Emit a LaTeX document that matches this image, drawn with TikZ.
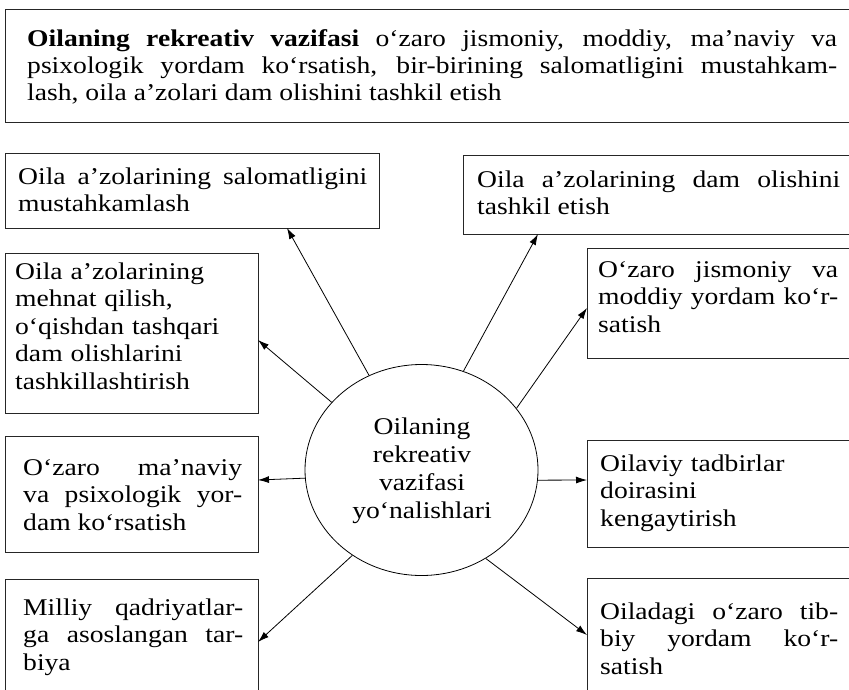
\documentclass[tikz,border=0pt]{standalone}
\usepackage{fontspec}
\setmainfont[FakeStretch=1.15]{Liberation Serif}
\usetikzlibrary{arrows.meta,shapes.geometric}
\hyphenpenalty=10000
\exhyphenpenalty=10000
\begin{document}
\begin{tikzpicture}[x=1pt,y=-1pt,
  box/.style={draw=black!85,line width=1pt,anchor=north west,inner sep=0pt},
  txt/.style={anchor=base west,inner sep=0pt,font=\fontsize{24}{27.5}\selectfont},
  arr/.style={-{Latex[length=11pt,width=7pt]},line width=0.8pt}]
\useasboundingbox[fill=white] (0,0) rectangle (849,689);

% boxes
\node[box,minimum width=855,minimum height=113] (T) at (5,9) {};
\node[box,minimum width=374,minimum height=75] (A) at (5,153) {};
\node[box,minimum width=397,minimum height=79] (B) at (463,155) {};
\node[box,minimum width=253,minimum height=160] (C) at (5,253) {};
\node[box,minimum width=273,minimum height=110] (D) at (587,248) {};
\node[box,minimum width=253,minimum height=116] (E) at (5,436) {};
\node[box,minimum width=253,minimum height=125] (F) at (5,579) {};
\node[box,minimum width=273,minimum height=107] (G) at (587,440) {};
\node[box,minimum width=273,minimum height=125] (H) at (587,578) {};

% texts
\node[txt,text width=810,align=justify,
  font=\fontsize{24}{27}\selectfont] (tT) at (27,46)
  {\textbf{Oilaning rekreativ vazifasi} o‘zaro jismoniy, moddiy, ma’naviy va\linebreak
   psixologik yordam ko‘rsatish, bir-birining salomatligini mustahkam-\linebreak
   lash, oila a’zolari dam olishini tashkil etish};
\node[txt,text width=349,align=justify] (tA) at (18,184)
  {Oila a’zolarining salomatligini\linebreak mustahkamlash};
\node[txt,text width=363,align=justify] (tB) at (477,187)
  {Oila a’zolarining dam olishini\linebreak tashkil etish};
\node[txt,text width=240,align=left] (tC) at (15,279)
  {Oila a’zolarining\\ mehnat qilish,\\ o‘qishdan tashqari\\ dam olishlarini\\ tashkillashtirish};
\node[txt,text width=240,align=justify] (tD) at (598,277)
  {O‘zaro jismoniy va\linebreak moddiy yordam ko‘r-\linebreak satish};
\node[txt,text width=219,align=justify] (tE) at (23,475)
  {O‘zaro ma’naviy\linebreak va psixologik yor-\linebreak dam ko‘rsatish};
\node[txt,text width=220,align=justify] (tF) at (23,615)
  {Milliy qadriyatlar-\linebreak ga asoslangan tar-\linebreak biya};
\node[txt,text width=238,align=left] (tG) at (600,471)
  {Oilaviy tadbirlar\\ doirasini\\ kengaytirish};
\node[txt,text width=238,align=justify] (tH) at (600,619)
  {Oiladagi o‘zaro tib-\linebreak biy yordam ko‘r-\linebreak satish};

% centre
\node[draw,ellipse,line width=0.8pt,minimum width=233,minimum height=211,inner sep=0pt] (c) at (421.5,470) {};
\node[anchor=base,inner sep=0pt,text width=220,align=center,
  font=\fontsize{24}{28}\selectfont] (ct) at (422,434)
  {Oilaning\\ rekreativ\\ vazifasi\\ yo‘nalishlari};

% arrow tips
\coordinate (pA) at (287,228);
\coordinate (pB) at (538,234);
\coordinate (pC) at (258,340);
\coordinate (pD) at (587,308);
\coordinate (pE) at (258,480);
\coordinate (pF) at (258,642);
\coordinate (pG) at (587,480);
\coordinate (pH) at (587,635);

\draw[arr] (c.119.6) -- (pA);
\draw[arr] (c.67.7) -- (pB);
\draw[arr] (c.143.4) -- (pC);
\draw[arr] (c.33.8) -- (pD);
\draw[arr] (c.184.4) -- (pE);
\draw[arr] (c.231.1) -- (pF);
\draw[arr] (c.355.6) -- (pG);
\draw[arr] (c.306.4) -- (pH);
\end{tikzpicture}
\end{document}
